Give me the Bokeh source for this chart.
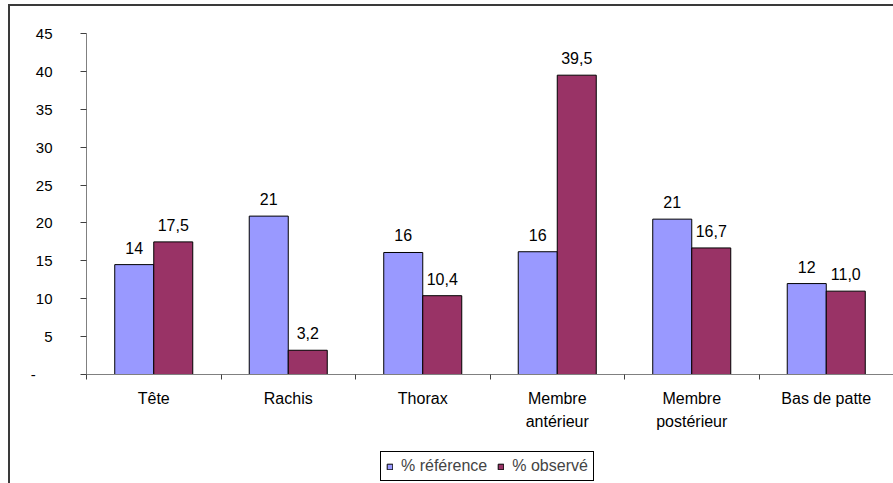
import numpy as np
from bokeh.plotting import figure
from bokeh.layouts import column
from bokeh.models import ColumnDataSource, FixedTicker, Legend, LegendItem
from bokeh.embed import file_html
from bokeh.resources import INLINE
from bokeh.core.properties import value

# ---- data ----
categories = ["Tête", "Rachis", "Thorax", "Membre\nantérieur", "Membre\npostérieur", "Bas de patte"]
ref_values = [14.5, 20.9, 16.1, 16.2, 20.5, 12.0]
obs_values = [17.5, 3.2, 10.4, 39.5, 16.7, 11.0]
ref_labels = ["14", "21", "16", "16", "21", "12"]
obs_labels = ["17,5", "3,2", "10,4", "39,5", "16,7", "11,0"]
series_names = ["% référence", "% observé"]
y_ticks = [0, 5, 10, 15, 20, 25, 30, 35, 40, 45]
y_tick_labels = ["-\u00a0\u00a0\u00a0\u00a0", "5", "10", "15", "20", "25", "30", "35", "40", "45"]

# ---- style ----
FONT = "Liberation Sans"
FS_NUM = "15px"
FS_BAR = "16px"
FS_TXT = "16px"
REF_COLOR = "#9999FF"
OBS_COLOR = "#993366"
AXIS_COLOR = "#808080"
W = 883

n = len(categories)
centers = [i + 0.5 for i in range(n)]
bar_w = 0.29
half = bar_w / 2

src = ColumnDataSource(dict(
    x_ref=[c - half for c in centers],
    x_obs=[c + half for c in centers],
    ref=ref_values,
    obs=obs_values,
    ref_lab=ref_labels,
    obs_lab=obs_labels,
))

p = figure(width=W, height=437, x_range=(0, n), y_range=(0, 45),
           output_backend="svg", toolbar_location=None,
           min_border_left=76, min_border_right=0, min_border_top=27, min_border_bottom=69)
p.outline_line_color = None
p.xgrid.grid_line_color = None
p.ygrid.grid_line_color = None
p.background_fill_color = "white"
p.border_fill_color = "white"

r_ref = p.vbar(x="x_ref", top="ref", width=bar_w, source=src,
               fill_color=REF_COLOR, line_color="black", line_width=1)
r_obs = p.vbar(x="x_obs", top="obs", width=bar_w, source=src,
               fill_color=OBS_COLOR, line_color="black", line_width=1)

for xcol, ycol, tcol in (("x_ref", "ref", "ref_lab"), ("x_obs", "obs", "obs_lab")):
    p.text(x=xcol, y=ycol, text=tcol, source=src, text_align="center",
           text_baseline="alphabetic", y_offset=-17,
           text_font=value(FONT), text_font_size=FS_BAR, text_color="black")

# x axis
xa = p.xaxis[0]
xa.ticker = FixedTicker(ticks=centers, minor_ticks=list(range(n + 1)))
xa.major_label_overrides = {c: cat for c, cat in zip(centers, categories)}
xa.major_tick_in = 0
xa.major_tick_out = 0
xa.minor_tick_in = 0
xa.minor_tick_out = 5
xa.minor_tick_line_color = "#404040"
xa.axis_line_color = AXIS_COLOR
xa.major_label_standoff = 10
xa.major_label_text_font = FONT
xa.major_label_text_font_size = FS_TXT
xa.major_label_text_color = "black"
xa.major_label_text_line_height = 1.4

# y axis
ya = p.yaxis[0]
ya.ticker = FixedTicker(ticks=y_ticks, minor_ticks=[])
ya.major_label_overrides = {t: l for t, l in zip(y_ticks, y_tick_labels)}
ya.major_tick_in = 0
ya.major_tick_out = 6
ya.major_tick_line_color = "#404040"
ya.axis_line_color = AXIS_COLOR
ya.major_label_standoff = 28
ya.major_label_text_font = FONT
ya.major_label_text_font_size = FS_NUM
ya.major_label_text_color = "black"

# ---- legend strip below the chart (proxy glyphs with NaN position: never drawn) ----
lg = figure(width=W, height=40, output_backend="svg", toolbar_location=None,
            x_axis_location=None, y_axis_location=None, min_border=0,
            x_range=(0, 1), y_range=(0, 1))
lg.outline_line_color = None
lg.xgrid.grid_line_color = None
lg.ygrid.grid_line_color = None
lg_src = ColumnDataSource(dict(x=np.array([np.nan]), ref=np.array([ref_values[0]]),
                               obs=np.array([obs_values[0]])))
lg_ref = lg.vbar(x="x", top="ref", width=0.1, source=lg_src,
                 fill_color=REF_COLOR, line_color="black", line_width=1)
lg_obs = lg.vbar(x="x", top="obs", width=0.1, source=lg_src,
                 fill_color=OBS_COLOR, line_color="black", line_width=1)

legend = Legend(items=[LegendItem(label=series_names[0], renderers=[lg_ref]),
                       LegendItem(label=series_names[1], renderers=[lg_obs])],
                orientation="horizontal", location=(294, 2))
legend.glyph_width = 7
legend.glyph_height = 7
legend.label_text_font = FONT
legend.label_text_font_size = FS_TXT
legend.label_standoff = 8
legend.spacing = 10
legend.padding = 5
legend.margin = 0
legend.border_line_color = "black"
legend.border_line_width = 1
legend.border_line_alpha = 1
legend.background_fill_color = "white"
legend.background_fill_alpha = 1
lg.add_layout(legend, "center")

layout = column(p, lg, spacing=0,
                styles={"border-top": "2px solid #3a3a3a", "border-left": "2px solid #3a3a3a",
                        "margin-top": "4px", "margin-left": "8px"})

open("out.html", "w").write(file_html(layout, INLINE))
